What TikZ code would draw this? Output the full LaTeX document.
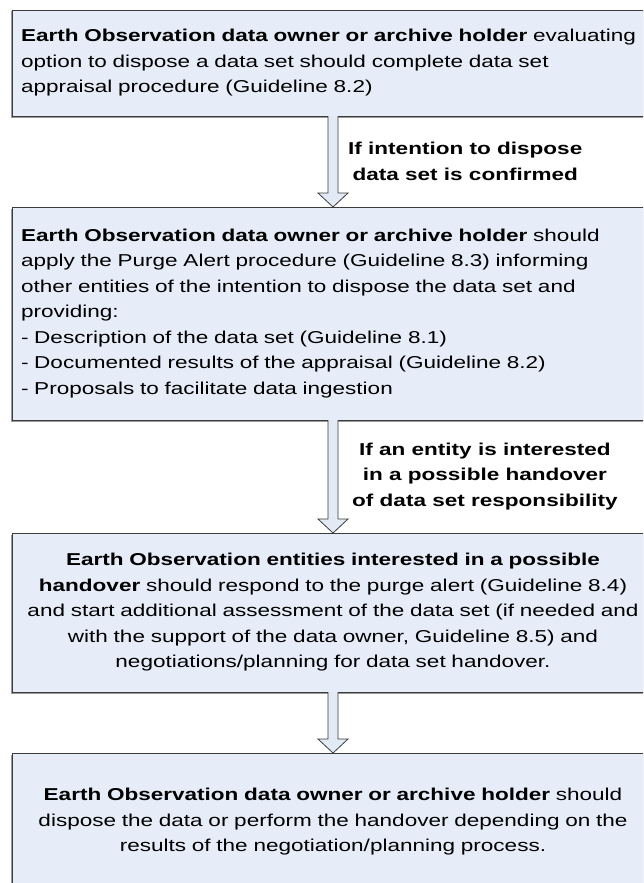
\documentclass[tikz,border=0pt]{standalone}
\usepackage{fontspec}
\setmainfont{Liberation Sans}[FakeStretch=1.31]
\usepackage{tikz}
\usetikzlibrary{calc,positioning,shadows}
\definecolor{BoxFill}  {RGB}{230,237,248}
\definecolor{ArrowFill}{RGB}{226,234,246}
\definecolor{EdgeGray} {RGB}{60,60,60}

% hollow block arrow from the bottom of one box to the top of the next
\newcommand{\hollowarrow}[2]{%
  \draw[blockarrow] ($(#1.south)+(-5,0)$) -- ($(#2.north)+(-5,14)$) -- ++(-10,0)
    -- (#2.north) -- ++(15,14) -- ++(-10,0) -- ($(#1.south)+(5,0)$);}

\begin{document}
\begin{tikzpicture}[x=1pt,y=1pt,
  stepbox/.style={draw=EdgeGray,line width=0.8pt,fill=BoxFill,outer sep=0pt,
    inner xsep=9pt,inner ysep=0pt,text width=624pt,minimum height=#1,
    font=\fontsize{17.2}{25.5}\selectfont,
    drop shadow={shadow xshift=-1pt,shadow yshift=-1.5pt,fill=gray!80,opacity=1}},
  blockarrow/.style={draw=EdgeGray,line width=0.8pt,fill=ArrowFill,line join=miter},
  cond/.style={align=center,inner sep=2pt,font=\fontsize{17.2}{25.5}\selectfont\bfseries}]
\path[use as bounding box] (0,0) rectangle (643,-883);
\clip (0,0) rectangle (643,-883);

\node[stepbox=106pt,align=left,anchor=north west] (appraisal) at (12,-10) {\textbf{Earth Observation data owner or archive holder} evaluating\\option to dispose a data set should complete data set\\appraisal procedure (Guideline 8.2)};
\node[stepbox=213pt,align=left,below=91pt of appraisal] (purge) {\textbf{Earth Observation data owner or archive holder} should\\apply the Purge Alert procedure (Guideline 8.3) informing\\other entities of the intention to dispose the data set and\\providing:\\- Description of the data set (Guideline 8.1)\\- Documented results of the appraisal (Guideline 8.2)\\- Proposals to facilitate data ingestion};
\node[stepbox=159pt,align=center,below=113pt of purge] (handover) {\textbf{Earth Observation entities interested in a possible}\\\textbf{handover} should respond to the purge alert (Guideline 8.4)\\and start additional assessment of the data set (if needed and\\with the support of the data owner, Guideline 8.5) and\\negotiations/planning for data set handover.};
\node[stepbox=138pt,align=center,below=61pt of handover] (dispose) {\textbf{Earth Observation data owner or archive holder} should\\dispose the data or perform the handover depending on the\\results of the negotiation/planning process.};

\hollowarrow{appraisal}{purge}
\hollowarrow{purge}{handover}
\hollowarrow{handover}{dispose}

\node[cond,anchor=west] (confirmed) at ($(appraisal.south)!0.5!(purge.north)+(13,0)$) {If intention to dispose\\data set is confirmed};
\node[cond,anchor=west] (interested) at ($(purge.south)!0.5!(handover.north)+(17,0)$) {If an entity is interested\\in a possible handover\\of data set responsibility};
\end{tikzpicture}
\end{document}
